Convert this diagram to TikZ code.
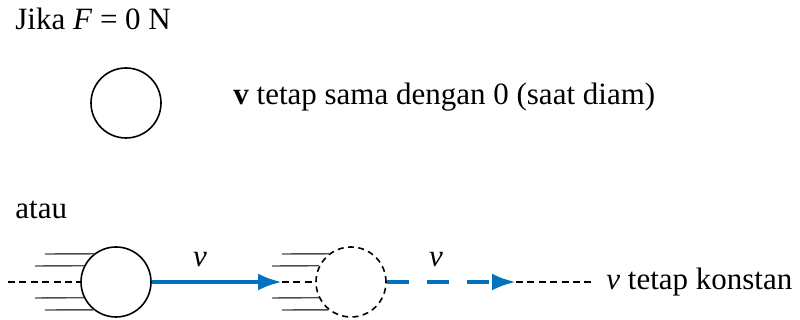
\documentclass[tikz,border=0pt]{standalone}
\usepackage{fontspec}
\setmainfont{Liberation Serif}
\usepackage{xcolor}
\usetikzlibrary{arrows.meta, positioning, calc}

\definecolor{velblue}{RGB}{0,114,190}

\tikzset{
  ball/.style={circle, draw, line width=0.8pt, minimum size=35pt, inner sep=0pt},
  ghostball/.style={ball, dash pattern=on 3pt off 2.2pt},
  speedline/.style={draw=black!70, line width=0.7pt},
  trackline/.style={line width=0.6pt, dash pattern=on 3.5pt off 2.2pt},
  velarrow/.style={velblue, line width=2pt, -{Latex[length=12pt,width=8.5pt]}},
  label/.style={inner sep=0pt, font=\fontsize{15.5}{18}\selectfont}
}

\begin{document}
\begin{tikzpicture}[x=0.5pt, y=0.5pt, >=latex]
\useasboundingbox (0,0) rectangle (800,320);

% --- Case at rest ---
\node[label, anchor=base west] (cond) at (15,290) {Jika \textit{F} = 0 N};
\node[ball] (rest) at (126,217) {};
\node[label, anchor=west] (resttxt) at (233,223) {\textbf{v} tetap sama dengan 0 (saat diam)};

\node[label, anchor=west] (or) at (15,110) {atau};

% --- Moving balls ---
\node[ball] (ball1) at (116,38) {};
\node[ghostball] (ball2) at (351,38) {};

\coordinate (trackstart) at (8,38);
\coordinate (tip1) at (282,38);
\coordinate (tip2) at (516,38);
\coordinate (trackend) at (592,38);

% speed lines behind the balls
\foreach \dy/\xs in {28/45, 16/35, -16/35, -28/45} {
  \draw[speedline] (\xs,38+\dy) -- (ball1.{180-asin(\dy/36)});
  \draw[speedline] (\xs+237,38+\dy) -- (ball2.{180-asin(\dy/36)});
}

% dashed track
\draw[trackline] (trackstart) -- (ball1.west);
\draw[trackline] (tip1) -- (ball2.west);
\draw[trackline] (tip2) -- (trackend);

% velocity arrows
\draw[velarrow] (ball1.east) -- (tip1);
\draw[velarrow, dash pattern=on 11pt off 9pt] (ball2.east) -- (tip2);

\node[label] (v1) at (200,60) {\textit{v}};
\node[label] (v2) at (436,60) {\textit{v}};

\node[label, anchor=west] (consttxt) at (606,38) {\textit{v} tetap konstan};

\end{tikzpicture}
\end{document}
